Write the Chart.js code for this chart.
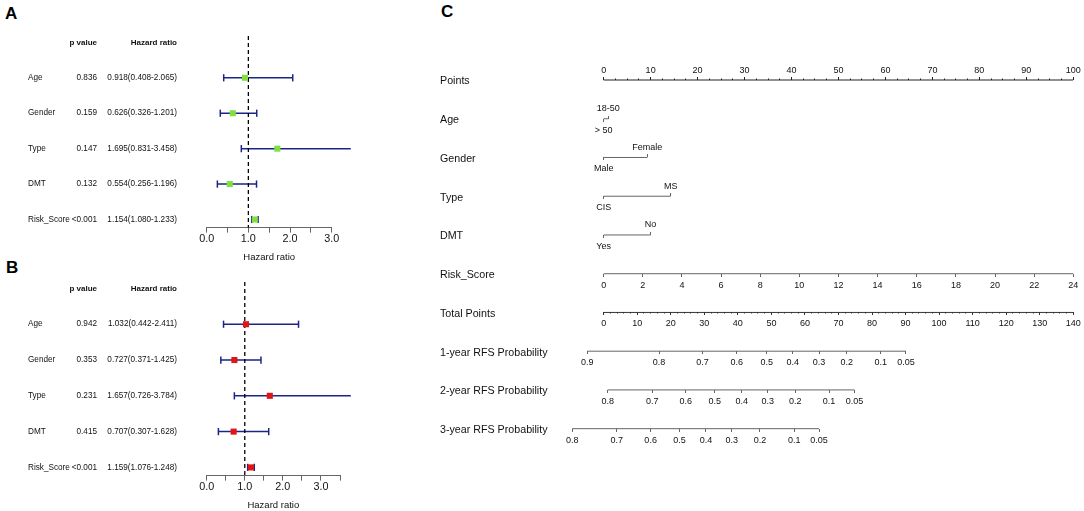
<!DOCTYPE html>
<html>
<head>
<meta charset="utf-8">
<script src="https://cdn.jsdelivr.net/npm/chart.js@4.4.1/dist/chart.umd.min.js"></script>
<style>
  body { margin: 0; background: #fff; width: 1084px; height: 511px; position: relative; overflow: hidden;
         font-family: "Liberation Sans", Arial, sans-serif; }
  canvas { position: absolute; }
  .tag { position: absolute; font-weight: bold; font-size: 17px; line-height: 17px; color: #000; }
</style>
</head>
<body>
<div class="tag" style="left:5px;top:5px">A</div>
<div class="tag" style="left:6px;top:259px">B</div>
<div class="tag" style="left:441px;top:3px">C</div>
<canvas id="forest-a" width="360" height="263" style="left:0;top:0"></canvas>
<canvas id="forest-b" width="360" height="261" style="left:0;top:250px"></canvas>
<canvas id="nomo" width="664" height="511" style="left:420px;top:0"></canvas>
<script>
// ---------- data ----------
const vars = ['Age', 'Gender', 'Type', 'DMT', 'Risk_Score'];

// A (univariate cox)
const pvalA = ['0.836', '0.159', '0.147', '0.132', '<0.001'];
const hrA = [0.918, 0.626, 1.695, 0.554, 1.154];
const lowA = [0.408, 0.326, 0.831, 0.256, 1.080];
const highA = [2.065, 1.201, 3.458, 1.196, 1.233];

// B (multivariate cox)
const pvalB = ['0.942', '0.353', '0.231', '0.415', '<0.001'];
const hrB = [1.032, 0.727, 1.657, 0.707, 1.159];
const lowB = [0.442, 0.371, 0.726, 0.307, 1.076];
const highB = [2.411, 1.425, 3.784, 1.628, 1.248];

// C (nomogram)
const nomoRows = ['Points', 'Age', 'Gender', 'Type', 'DMT', 'Risk_Score', 'Total Points',
  '1-year RFS Probability', '2-year RFS Probability', '3-year RFS Probability'];
const pointsTicks = [0, 10, 20, 30, 40, 50, 60, 70, 80, 90, 100];
// levels: [upper label, lower label]
const ageLevels = ['18-50', '> 50'];
const agePts = [1.0, 0];
const genderLevels = ['Female', 'Male'];
const genderPts = [9.3, 0];
const typeLevels = ['MS', 'CIS'];
const typePts = [14.3, 0];
const dmtLevels = ['No', 'Yes'];
const dmtPts = [10.0, 0];
const riskTicks = [0, 2, 4, 6, 8, 10, 12, 14, 16, 18, 20, 22, 24];
const totalTicks = [0, 10, 20, 30, 40, 50, 60, 70, 80, 90, 100, 110, 120, 130, 140];
// probability labels and where they sit on the total points scale
const prob1Labels = ['0.9', '0.8', '0.7', '0.6', '0.5', '0.4', '0.3', '0.2', '0.1', '0.05'];
const prob1At = [-4.9, 16.5, 29.5, 39.7, 48.6, 56.4, 64.2, 72.5, 82.6, 90.1];
const prob2Labels = ['0.8', '0.7', '0.6', '0.5', '0.4', '0.3', '0.2', '0.1', '0.05'];
const prob2At = [1.2, 14.5, 24.5, 33.1, 41.2, 48.9, 57.1, 67.2, 74.8];
const prob3Labels = ['0.8', '0.7', '0.6', '0.5', '0.4', '0.3', '0.2', '0.1', '0.05'];
const prob3At = [-9.4, 3.9, 14.0, 22.6, 30.5, 38.2, 46.6, 56.8, 64.2];

// ---------- setup ----------
Chart.defaults.font.family = '"Liberation Sans", Arial, sans-serif';
Chart.defaults.color = '#111';
Chart.defaults.animation = false;
Chart.defaults.plugins.legend.display = false;
Chart.defaults.plugins.tooltip.enabled = false;

const NAVY = '#1b2585';
const Y_TOP = -1.18;
const Y_BOT = 4.23;

// text columns left of the forest plot
const tablePlugin = {
  id: 'table',
  afterDraw(chart, args, opts) {
    const ctx = chart.ctx;
    const y = chart.scales.y;
    ctx.save();
    ctx.fillStyle = '#111';
    ctx.textBaseline = 'middle';
    ctx.textAlign = 'right';
    ctx.font = 'bold 8px "Liberation Sans"';
    ctx.fillText('p value', 97, y.getPixelForValue(-1));
    ctx.fillText('Hazard ratio', 177, y.getPixelForValue(-1));
    ctx.font = '8.2px "Liberation Sans"';
    vars.forEach((v, i) => {
      const py = y.getPixelForValue(i);
      ctx.textAlign = 'left';
      ctx.fillText(v, 28, py);
      ctx.textAlign = 'right';
      ctx.fillText(opts.p[i], 97, py);
      ctx.fillText(`${opts.hr[i].toFixed(3)}(${opts.low[i].toFixed(3)}-${opts.high[i].toFixed(3)})`, 177, py);
    });
    ctx.restore();
  }
};

const drawForest = (id, p, hr, low, high, xMax, fill, pad) => {
  const ci = [];
  const caps = [];
  for (let i = 0; i < hr.length; i++) {
    ci.push({ x: low[i], y: i }, { x: high[i], y: i }, { x: null, y: null });
    caps.push({ x: low[i], y: i }, { x: high[i], y: i });
  }

  new Chart(document.getElementById(id), {
    type: 'scatter',
    data: {
      datasets: [
        { data: hr.map((v, i) => ({ x: v, y: i })), pointStyle: 'rect', pointRadius: 4.3,
          backgroundColor: fill, borderWidth: 0, order: 0, clip: false },
        { type: 'line', data: [{ x: 1, y: Y_TOP }, { x: 1, y: Y_BOT }], borderColor: '#000',
          borderWidth: 1.3, borderDash: [4, 3], pointRadius: 0, order: 1 },
        { data: caps, pointStyle: 'line', rotation: 90, pointRadius: 3.6, borderColor: NAVY,
          borderWidth: 1.5, order: 2, clip: false },
        { type: 'line', data: ci, borderColor: NAVY, borderWidth: 1.5, pointRadius: 0,
          spanGaps: false, order: 3, clip: false },
      ],
    },
    options: {
      responsive: false,
      layout: { padding: pad },
      plugins: { table: { p, hr, low, high } },
      scales: {
        x: {
          type: 'linear', min: 0, max: xMax,
          ticks: { stepSize: 0.5, autoSkip: false, maxRotation: 0, padding: 0, font: { size: 10.8 },
                   color: '#111', callback: v => (v % 1 === 0 ? v.toFixed(1) : '') },
          grid: { drawOnChartArea: false, tickLength: 5, color: '#666' },
          border: { color: '#666' },
          title: { display: true, text: 'Hazard ratio', font: { size: 9.5 }, color: '#111',
                   padding: { top: 6, bottom: 0 } },
        },
        y: { type: 'linear', min: Y_TOP, max: Y_BOT, reverse: true, display: false },
      },
    },
    plugins: [tablePlugin],
  });
};

drawForest('forest-a', pvalA, hrA, lowA, highA, 3, '#80e040',
  { left: 206.7, right: 28.3, top: 36, bottom: 0 });
drawForest('forest-b', pvalB, hrB, lowB, highB, 3.5, '#e01515',
  { left: 206.7, right: 20, top: 32, bottom: 0 });

// ---------- nomogram ----------
const PT = [-10, 100];
const TOT = [-14, 140];
const RISK = [-2.4, 24];
const GREY = '#666';

const rowAxis = (row, range, vals, labels, tickLen, pad, color) => ({
  type: 'linear', axis: 'x', position: { y: row }, min: range[0], max: range[1],
  afterBuildTicks: s => { s.ticks = vals.map(v => ({ value: v })); },
  grid: { drawOnChartArea: false, drawTicks: true, tickLength: tickLen, color, tickColor: color, tickWidth: 1 },
  border: { display: false },
  ticks: { autoSkip: false, maxRotation: 0, padding: pad, font: { size: 9 }, color: '#111',
           callback: (v, i) => (labels ? labels[i] : '') },
});

const UP_PAD = -12.4;
const DOWN_PAD = 3.1;

const minorPts = [];
for (let v = 2.5; v < 100; v += 2.5) if (v % 10) minorPts.push(v);
const minorTot = [];
for (let v = 2; v < 140; v += 2) if (v % 10) minorTot.push(v);

const nomoScales = {
  y: { type: 'linear', min: -2.065, max: 11.125, reverse: true, display: false },
  pts: rowAxis(0, PT, pointsTicks, pointsTicks.map(String), -3, -11.4, '#222'),
  ptsMinor: rowAxis(0, PT, minorPts, null, -1.5, 0, '#222'),
  risk: rowAxis(5, RISK, riskTicks, riskTicks.map(String), 3, DOWN_PAD, GREY),
  tot: rowAxis(6, TOT, totalTicks, totalTicks.map(String), 3, DOWN_PAD, '#333'),
  totMinor: rowAxis(6, TOT, minorTot, null, 1.5, 0, '#333'),
  p1: rowAxis(7, TOT, prob1At, prob1Labels, 3, DOWN_PAD, GREY),
  p2: rowAxis(8, TOT, prob2At, prob2Labels, 3, DOWN_PAD, GREY),
  p3: rowAxis(9, TOT, prob3At, prob3Labels, 3, DOWN_PAD, GREY),
};

// categorical rows: upper level ticks up, lower level ticks down
[['age', 1, ageLevels, agePts], ['gender', 2, genderLevels, genderPts],
 ['type', 3, typeLevels, typePts], ['dmt', 4, dmtLevels, dmtPts]].forEach(([key, row, lv, pts]) => {
  nomoScales[key + 'Hi'] = rowAxis(row, PT, [pts[0]], [lv[0]], -3, UP_PAD, GREY);
  nomoScales[key + 'Lo'] = rowAxis(row, PT, [pts[1]], [lv[1]], 3, DOWN_PAD, GREY);
});

const seg = (axisId, row, a, b, color, width) => ({
  type: 'line', xAxisID: axisId, yAxisID: 'y',
  data: [{ x: a, y: row }, { x: b, y: row }],
  borderColor: color, borderWidth: width, pointRadius: 0,
});

const last = arr => arr[arr.length - 1];

const rowLabelPlugin = {
  id: 'rowLabels',
  afterDraw(chart) {
    const ctx = chart.ctx;
    const y = chart.scales.y;
    ctx.save();
    ctx.font = '10.7px "Liberation Sans"';
    ctx.fillStyle = '#111';
    ctx.textBaseline = 'middle';
    ctx.textAlign = 'left';
    nomoRows.forEach((r, i) => ctx.fillText(r, 20, y.getPixelForValue(i) + 1.5));
    ctx.restore();
  }
};

new Chart(document.getElementById('nomo'), {
  type: 'scatter',
  data: {
    datasets: [
      seg('pts', 0, pointsTicks[0], last(pointsTicks), '#222', 1.2),
      seg('pts', 1, Math.min(...agePts), Math.max(...agePts), GREY, 1),
      seg('pts', 2, Math.min(...genderPts), Math.max(...genderPts), GREY, 1),
      seg('pts', 3, Math.min(...typePts), Math.max(...typePts), GREY, 1),
      seg('pts', 4, Math.min(...dmtPts), Math.max(...dmtPts), GREY, 1),
      seg('risk', 5, riskTicks[0], last(riskTicks), GREY, 1),
      seg('tot', 6, totalTicks[0], last(totalTicks), '#333', 1),
      seg('p1', 7, prob1At[0], last(prob1At), GREY, 1),
      seg('p2', 8, prob2At[0], last(prob2At), GREY, 1),
      seg('p3', 9, prob3At[0], last(prob3At), GREY, 1),
    ],
  },
  options: {
    responsive: false,
    layout: { padding: { left: 136.7, right: 10.7, top: 0, bottom: 0 } },
    scales: nomoScales,
  },
  plugins: [rowLabelPlugin],
});
</script>
</body>
</html>
